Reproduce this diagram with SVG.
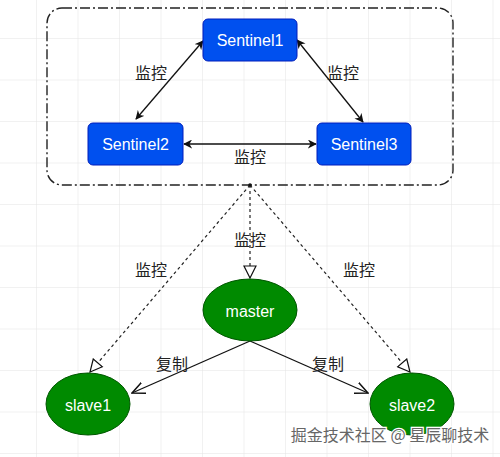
<svg xmlns="http://www.w3.org/2000/svg" width="500" height="457" viewBox="0 0 500 457">
<defs>
<pattern id="grid" x="-4.5" y="-2.5" width="41.5" height="41.5" patternUnits="userSpaceOnUse">
<path d="M41.5 0 V41.5 M0 41.5 H41.5" fill="none" stroke="#e4e4e4" stroke-width="1"/>
</pattern>
<marker id="cls" viewBox="0 0 10 10" refX="9" refY="5" markerWidth="9" markerHeight="9" markerUnits="userSpaceOnUse" orient="auto-start-reverse">
<path d="M0,0 L10,5 L0,10 L3,5 z" fill="#111"/>
</marker>
<marker id="opn" viewBox="0 0 12 12" refX="11" refY="6" markerWidth="14" markerHeight="14" markerUnits="userSpaceOnUse" orient="auto">
<path d="M0,1 L11,6 L0,11" fill="none" stroke="#111" stroke-width="1.3"/>
</marker>
<marker id="tri" viewBox="0 0 14 14" refX="13" refY="7" markerWidth="14" markerHeight="14" markerUnits="userSpaceOnUse" orient="auto">
<path d="M1,1 L13,7 L1,13 z" fill="#fff" stroke="#111" stroke-width="1.2"/>
</marker>
</defs>
<style>
.lbl{font-family:"Liberation Sans","Noto Sans CJK SC",sans-serif;font-size:16px;fill:#222;text-anchor:middle;dominant-baseline:central}
.sn rect{fill:#0050ef;stroke:#001dbc;stroke-width:1}
.sn text{font-family:"Liberation Sans",Arial,sans-serif;font-size:16px;fill:#fff;text-anchor:middle;dominant-baseline:central}
.rd ellipse{fill:#008a00;stroke:#005700;stroke-width:1}
.rd text{font-family:"Liberation Sans",Arial,sans-serif;font-size:16px;fill:#fff;text-anchor:middle;dominant-baseline:central}
.ln{stroke:#111;stroke-width:1.3;fill:none}
.dash{stroke:#222;stroke-width:1.2;fill:none;stroke-dasharray:3 3}
</style>
<rect width="500" height="457" fill="#fff"/>
<rect width="500" height="457" fill="url(#grid)"/>
<g id="cluster">
<rect x="47" y="8" width="406" height="177" rx="15" fill="none" stroke="#222" stroke-width="1.4" stroke-dasharray="10 3 2 3"/>
</g>
<g id="connectors">
<line class="ln" x1="203" y1="41" x2="136" y2="119" marker-start="url(#cls)" marker-end="url(#cls)"/>
<line class="ln" x1="297" y1="40" x2="363" y2="122" marker-start="url(#cls)" marker-end="url(#cls)"/>
<line class="ln" x1="184" y1="144" x2="316" y2="144" marker-start="url(#cls)" marker-end="url(#cls)"/>
<line class="dash" x1="250" y1="185" x2="250" y2="278" marker-end="url(#tri)"/>
<line class="dash" x1="250" y1="185" x2="90" y2="372" marker-end="url(#tri)"/>
<line class="dash" x1="250" y1="185" x2="410" y2="372" marker-end="url(#tri)"/>
<line class="ln" x1="250" y1="341" x2="132" y2="393" marker-end="url(#opn)"/>
<line class="ln" x1="250" y1="341" x2="368" y2="393" marker-end="url(#opn)"/>
<circle cx="250" cy="185" r="1.8" fill="#111"/>
<text class="lbl" x="151" y="73">监控</text>
<text class="lbl" x="343" y="73">监控</text>
<text class="lbl" x="250" y="157">监控</text>
<text class="lbl" x="250" y="240">监控</text>
<text class="lbl" x="151" y="270">监控</text>
<text class="lbl" x="359" y="270">监控</text>
<text class="lbl" x="172" y="364">复制</text>
<text class="lbl" x="328" y="364">复制</text>
</g>
<g id="sentinel1" class="sn"><rect x="203" y="19" width="94" height="42" rx="5"/><text x="250" y="40">Sentinel1</text></g>
<g id="sentinel2" class="sn"><rect x="88" y="123" width="95" height="42" rx="5"/><text x="135.5" y="144">Sentinel2</text></g>
<g id="sentinel3" class="sn"><rect x="317" y="123" width="94" height="42" rx="5"/><text x="364" y="144">Sentinel3</text></g>
<g id="master" class="rd"><ellipse cx="250" cy="310" rx="47" ry="31"/><text x="250" y="311">master</text></g>
<g id="slave1" class="rd"><ellipse cx="88" cy="404" rx="42" ry="31"/><text x="88" y="405">slave1</text></g>
<g id="slave2" class="rd"><ellipse cx="412" cy="404" rx="42" ry="31"/><text x="412" y="405">slave2</text></g>
<g id="watermark">
<text x="390" y="434" font-family="'Noto Sans CJK SC',sans-serif" font-size="16" fill="#666" stroke="#fff" stroke-width="2.5" paint-order="stroke" text-anchor="middle" dominant-baseline="central">掘金技术社区 @ 星辰聊技术</text>
</g>
</svg>
